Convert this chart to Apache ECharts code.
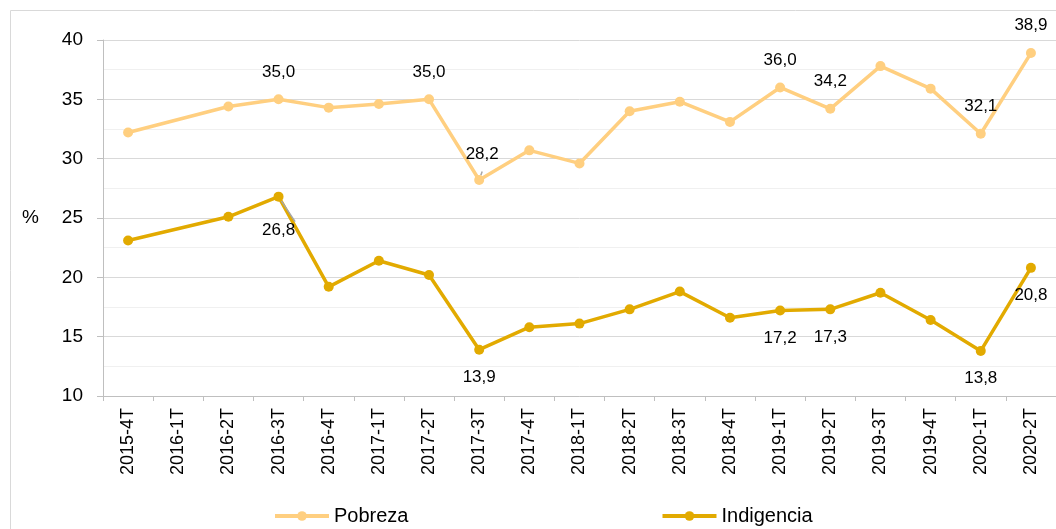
<!DOCTYPE html>
<html>
    <head>
        <meta charset="utf-8">
        <style>
            html, body { margin: 0; padding: 0; background: #fff; }
        </style>
    </head>
    <body>
        <div id="main" style="width:1056px;height:529px"></div>
        <script src="https://cdn.jsdelivr.net/npm/echarts@6/dist/echarts.min.js"></script>
        <script type="text/javascript">
            // trimestres (2016-1T sin dato)
            var categories = ['2015-4T', '2016-1T', '2016-2T', '2016-3T', '2016-4T', '2017-1T', '2017-2T',
                '2017-3T', '2017-4T', '2018-1T', '2018-2T', '2018-3T', '2018-4T', '2019-1T', '2019-2T',
                '2019-3T', '2019-4T', '2020-1T', '2020-2T']
            var pobreza = [32.2, null, 34.4, 35.0, 34.3, 34.6, 35.0, 28.2, 30.7, 29.6, 34.0, 34.8, 33.1,
                36.0, 34.2, 37.8, 35.9, 32.1, 38.9]
            var indigencia = [23.1, null, 25.1, 26.8, 19.2, 21.4, 20.2, 13.9, 15.8, 16.1, 17.3, 18.8, 16.6,
                17.2, 17.3, 18.7, 16.4, 13.8, 20.8]
            // puntos con etiqueta
            var pobrezaLabeled = ['2016-3T', '2017-2T', '2017-3T', '2019-1T', '2019-2T', '2020-1T', '2020-2T']
            var indigenciaLabeled = ['2016-3T', '2017-3T', '2019-1T', '2019-2T', '2020-1T', '2020-2T']
            // etiquetas con linea guia
            var pobrezaLeader = ['2017-3T']
            var indigenciaLeader = ['2016-3T']

            var fmt = function (v) { return v.toFixed(1).replace('.', ',') }

            function buildData(values, labeled, leader, pos, leadDist, leadDx) {
                return values.map(function (v, i) {
                    if (v === null) return null
                    var show = labeled.indexOf(categories[i]) >= 0
                    var lead = leader.indexOf(categories[i]) >= 0
                    return {
                        value: v,
                        label: { show: show, position: pos, distance: lead ? leadDist : 14, offset: lead ? [leadDx, 0] : [0, 0] },
                        labelLine: { show: lead, lineStyle: { color: '#a6a6a6', width: 1.5 } }
                    }
                })
            }

            var mycharts = echarts.init(document.getElementById('main'))
            var option = {
                animation: false,
                textStyle: { fontFamily: 'Liberation Sans, Arial, sans-serif' },
                graphic: [{
                    type: 'rect',
                    shape: { x: 10.5, y: 10.5, width: 1200, height: 700 },
                    style: { fill: 'none', stroke: '#d9d9d9', lineWidth: 1 },
                    silent: true,
                    z: -1
                }],
                grid: { left: 103, right: 0, top: 40, bottom: 133 },
                legend: {
                    left: 268,
                    top: 501,
                    itemWidth: 54,
                    itemHeight: 12,
                    itemGap: 252,
                    lineStyle: { width: 4 },
                    textStyle: { fontSize: 20, color: '#000' },
                    data: ['Pobreza', 'Indigencia']
                },
                xAxis: {
                    type: 'category',
                    data: categories,
                    boundaryGap: true,
                    axisLine: { lineStyle: { color: '#bfbfbf', width: 1 } },
                    axisTick: { show: true, length: 5, lineStyle: { color: '#bfbfbf' } },
                    axisLabel: { rotate: 90, margin: 12, fontSize: 18, color: '#000', interval: 0 }
                },
                yAxis: {
                    type: 'value',
                    min: 10,
                    max: 40,
                    interval: 5,
                    name: '%',
                    nameLocation: 'middle',
                    nameRotate: 0,
                    nameGap: 64,
                    nameTextStyle: { fontSize: 19, color: '#000' },
                    axisLine: { show: true, lineStyle: { color: '#bfbfbf' } },
                    axisTick: { show: true, length: 6, lineStyle: { color: '#bfbfbf' } },
                    axisLabel: { fontSize: 19, color: '#000', margin: 20 },
                    splitLine: { lineStyle: { color: '#d9d9d9', width: 1 } },
                    minorTick: { show: false, splitNumber: 2 },
                    minorSplitLine: { show: true, lineStyle: { color: '#f0f0f0', width: 1 } }
                },
                series: [{
                    name: 'Pobreza',
                    type: 'line',
                    connectNulls: true,
                    data: buildData(pobreza, pobrezaLabeled, pobrezaLeader, 'top', 12, 3),
                    symbol: 'circle',
                    symbolSize: 10,
                    itemStyle: { color: '#ffcf80' },
                    lineStyle: { color: '#ffcf80', width: 3.5 },
                    label: {
                        fontSize: 17,
                        color: '#000',
                        formatter: function (p) { return fmt(p.value) }
                    }
                }, {
                    name: 'Indigencia',
                    type: 'line',
                    connectNulls: true,
                    data: buildData(indigencia, indigenciaLabeled, indigenciaLeader, 'bottom', 20, 0),
                    symbol: 'circle',
                    symbolSize: 10,
                    itemStyle: { color: '#e2aa00' },
                    lineStyle: { color: '#e2aa00', width: 3.5 },
                    label: {
                        fontSize: 17,
                        color: '#000',
                        formatter: function (p) { return fmt(p.value) }
                    }
                }]
            }
            mycharts.setOption(option)
        </script>
    </body>
</html>
